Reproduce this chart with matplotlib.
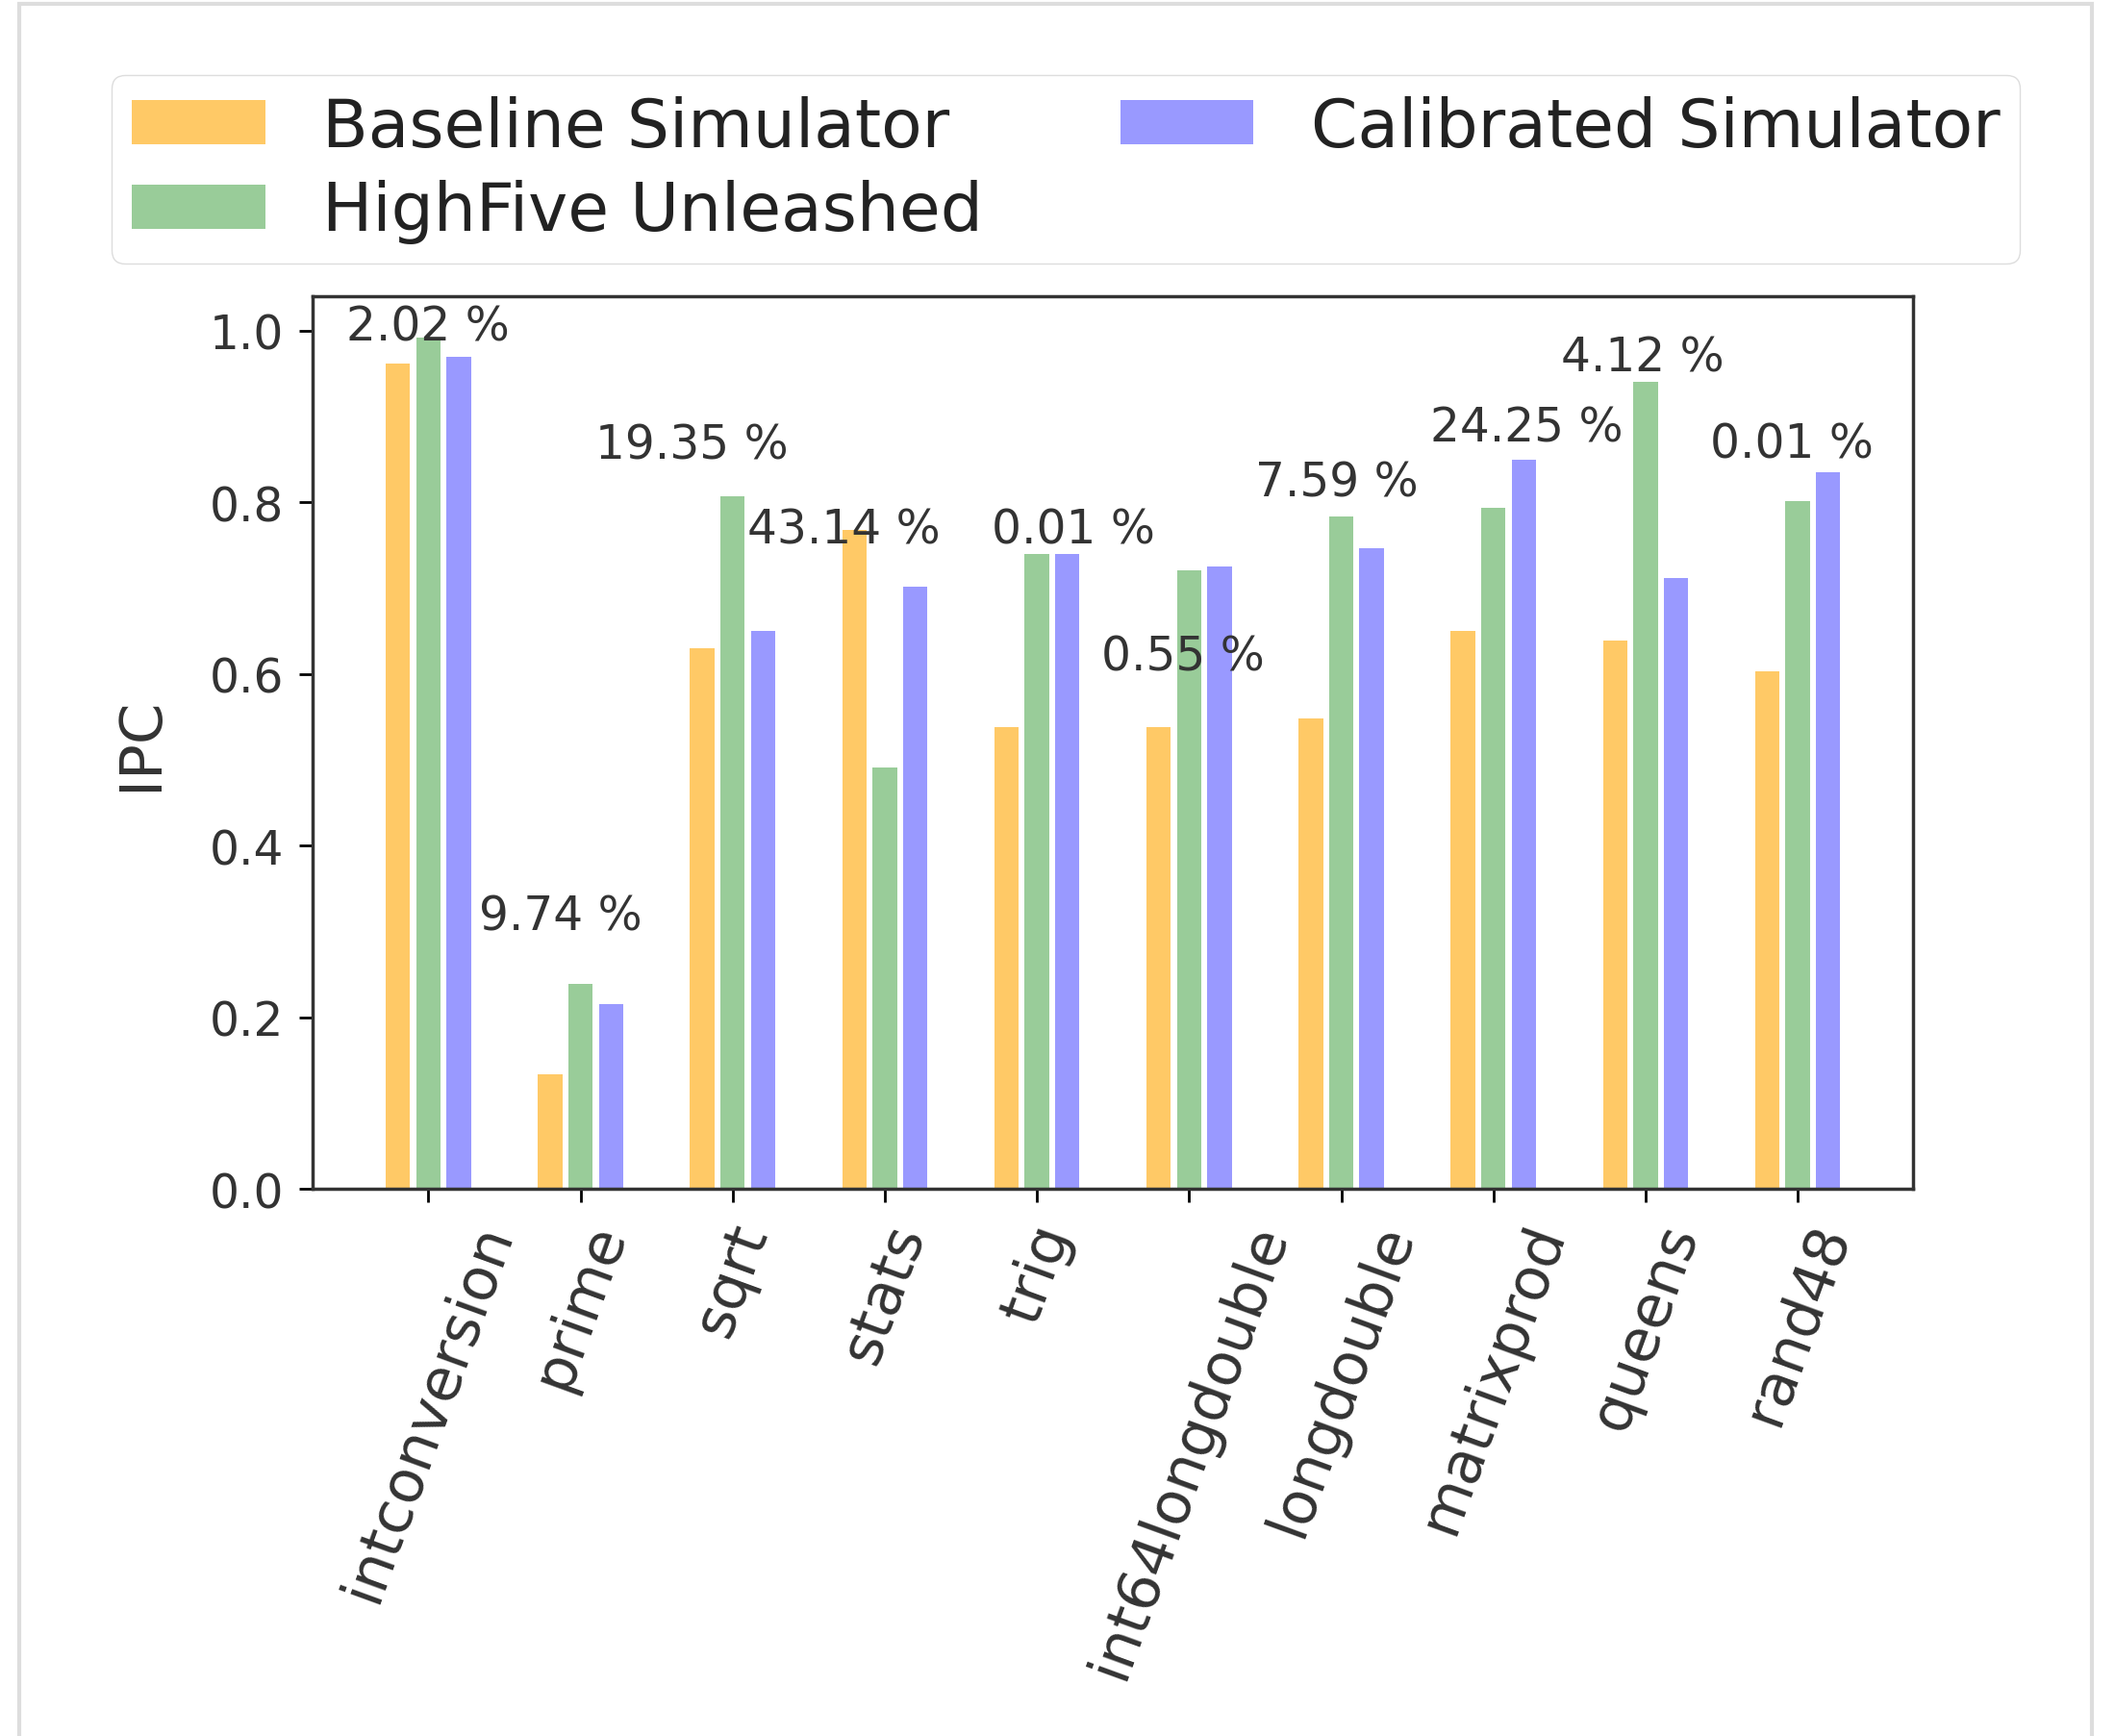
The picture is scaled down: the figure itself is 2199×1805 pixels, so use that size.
import numpy as np
import matplotlib.pyplot as plt
from matplotlib.patches import Rectangle

# benchmark names and IPC per simulator
benchmarks = ['intconversion', 'prime', 'sqrt', 'stats', 'trig',
              'int64longdouble', 'longdouble', 'matrixprod', 'queens', 'rand48']
baseline = [0.961, 0.133, 0.630, 0.768, 0.538, 0.538, 0.548, 0.650, 0.639, 0.603]
highfive = [0.992, 0.239, 0.807, 0.491, 0.739, 0.721, 0.783, 0.793, 0.940, 0.801]
calibrated = [0.969, 0.215, 0.650, 0.702, 0.739, 0.725, 0.746, 0.849, 0.711, 0.835]

# error labels and where they were placed (data coords)
err_labels = ['2.02 %', '9.74 %', '19.35 %', '43.14 %', '0.01 %',
              '0.55 %', '7.59 %', '24.25 %', '4.12 %', '0.01 %']
label_x = [0.0, -0.13, -0.27, -0.27, 0.24, -0.04, -0.03, 0.22, -0.02, -0.04]
label_y = [1.005, 0.318, 0.867, 0.768, 0.768, 0.620, 0.823, 0.887, 0.969, 0.868]

fig = plt.figure(figsize=(21.99, 18.06), dpi=100)
ax = fig.add_axes([0.148, 0.315, 0.7565, 0.514])

x = np.arange(len(benchmarks))
w = 0.16
off = 0.2
b1 = ax.bar(x - off, baseline, w, color='orange', alpha=0.6, label='Baseline Simulator')
b2 = ax.bar(x, highfive, w, color='green', alpha=0.4, label='HighFive Unleashed')
b3 = ax.bar(x + off, calibrated, w, color='blue', alpha=0.4, label='Calibrated Simulator')

txt_color = '#333333'
for i in range(len(benchmarks)):
    ax.text(x[i] + label_x[i], label_y[i], err_labels[i], ha='center', va='center',
            fontsize=35, color=txt_color)

ax.set_xticks(x)
ax.set_xticklabels(benchmarks, rotation=70, fontsize=44, color=txt_color,
                   ha='center', va='top')
ax.set_yticks([0.0, 0.2, 0.4, 0.6, 0.8, 1.0])
ax.set_yticklabels(['0.0', '0.2', '0.4', '0.6', '0.8', '1.0'])
ax.tick_params(axis='y', labelsize=35, labelcolor=txt_color, length=10, width=2, pad=12)
ax.tick_params(axis='x', length=10, width=2, pad=10)
ax.set_ylabel('IPC', fontsize=44, color=txt_color, labelpad=30)
ax.set_ylim(0, 1.04)
for s in ax.spines.values():
    s.set_linewidth(2.5)
    s.set_color('#333333')

leg = fig.legend(handles=[b1, b2, b3], loc='center', bbox_to_anchor=(0.504, 0.902),
                 ncol=2, fontsize=50, handlelength=2.0, handleheight=0.65,
                 columnspacing=2.05, handletextpad=0.85, borderpad=0.3,
                 labelspacing=0.3, fancybox=True, framealpha=1.0, edgecolor='#dddddd')
for t in leg.get_texts():
    t.set_color('#222222')

# screenshot frame
fig.patches.append(Rectangle((0.009, -0.01), 0.98, 1.007, transform=fig.transFigure,
                             fill=False, edgecolor='#dddddd', linewidth=3))

fig.savefig('out.png', dpi=100)
